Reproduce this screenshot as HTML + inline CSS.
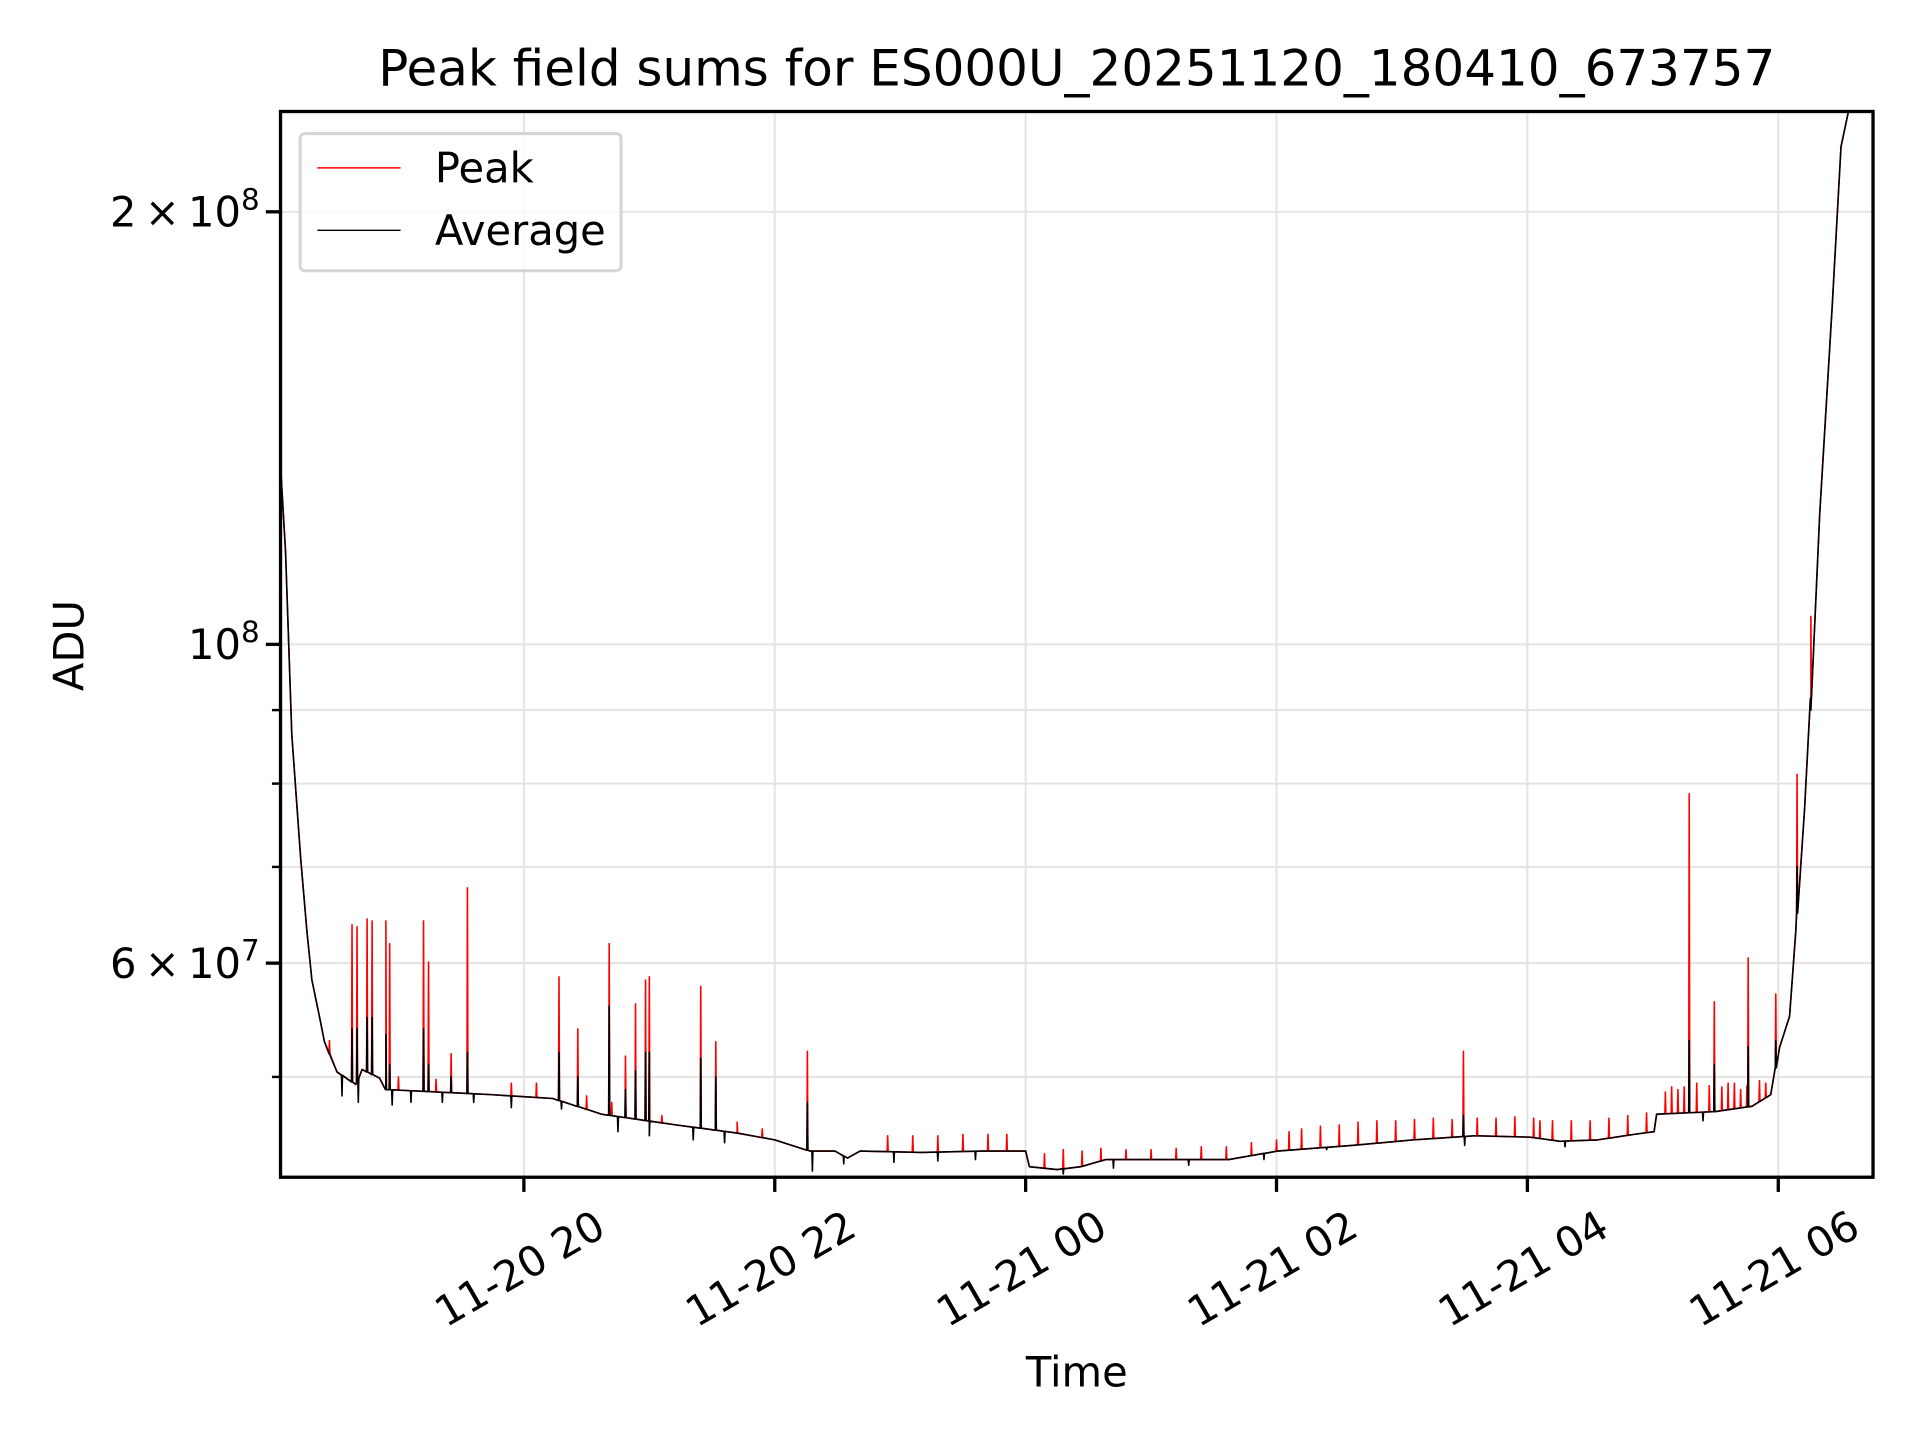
<!DOCTYPE html>
<html><head><meta charset="utf-8"><style>
html,body{margin:0;padding:0;background:#fff;}
svg{display:block;font-family:"DejaVu Sans","Liberation Sans",sans-serif;}
</style></head><body>
<svg id="chart" width="1920" height="1440" viewBox="0 0 1567.35 1175.5" xmlns="http://www.w3.org/2000/svg">
<rect width="1567.35" height="1175.5" fill="#fff"/>
<text x="879" y="70" font-size="40.8" text-anchor="middle">Peak field sums for ES000U_20251120_180410_673757</text>
<g id="grid"></g>
<g id="series"></g>
<rect x="229" y="91" width="1300" height="870" fill="none" stroke="#000" stroke-width="2.7"/>
<g id="axes"></g>
<text x="879" y="1132" font-size="34" text-anchor="middle">Time</text>
<text transform="translate(68,527) rotate(-90)" font-size="34" text-anchor="middle">ADU</text>
<g>
<rect x="245" y="109" width="262" height="112" rx="4" fill="#fff" fill-opacity="0.8" stroke="#d5d5d5" stroke-width="2.5"/>
<line x1="259" y1="137" x2="327" y2="137" stroke="#f00" stroke-width="1.2"/>
<text x="355" y="149" font-size="34">Peak</text>
<line x1="259" y1="188" x2="327" y2="188" stroke="#000" stroke-width="1.2"/>
<text x="355" y="200" font-size="34">Average</text>
</g>
</svg>
<script>
// hours since 11-20 00:00 ; values in units of 1e7 ADU
const baseT = [18.06,18.10,18.15,18.22,18.27,18.31,18.37,18.41,18.51,18.66,18.71,18.85,18.90,19.74,20.23,20.62,21.21,21.70,22.00,22.28,22.48,22.58,22.68,23.17,23.66,24.00,24.03,24.25,24.44,24.64,25.13,25.62,26.01,26.60,27.09,27.58,28.02,28.26,28.56,28.85,29.01,29.03,29.50,29.79,29.94,30.01,30.09,30.14,30.21,30.26,30.33,30.43,30.50,30.56];
const baseV = [13.32,11.6,8.65,7.11,6.32,5.84,5.51,5.29,5.04,4.94,5.06,4.99,4.90,4.86,4.83,4.71,4.63,4.57,4.52,4.44,4.44,4.39,4.44,4.43,4.44,4.44,4.33,4.31,4.33,4.38,4.38,4.38,4.44,4.48,4.52,4.55,4.54,4.51,4.52,4.56,4.58,4.71,4.73,4.77,4.86,5.24,5.51,6.32,7.69,9.17,12.31,17.2,22.2,23.5];
const spikeT = [18.63,18.67,18.75,18.79,18.90,18.93,19.20,19.24,19.42,19.55,20.28,20.43,20.68,20.81,20.89,20.97,21.00,21.41,21.53,22.26,27.49,29.29,29.49,29.76,29.98,30.15,30.26];
const spikePeakV = [6.38,6.36,6.44,6.42,6.42,6.19,6.42,6.01,5.19,6.77,5.87,5.40,6.19,5.17,5.62,5.84,5.87,5.78,5.29,5.21,5.21,7.87,5.64,6.05,5.71,8.12,10.46];
const spikeAvgV = [5.40,5.40,5.50,5.50,5.35,5.10,5.40,5.10,5.00,5.20,5.20,5.00,5.60,4.90,5.05,5.20,5.20,5.15,5.00,4.80,4.70,5.30,5.10,5.25,5.30,7.00,9.00];
const smallT = [18.45,19.0,19.3,19.9,20.1,20.5,20.7,21.1,21.7,21.9,22.9,23.1,23.3,23.5,23.7,23.85,24.15,24.3,24.45,24.6,24.8,25.0,25.2,25.4,25.6,25.8,26.0,26.1,26.2,26.35,26.5,26.65,26.8,26.95,27.1,27.25,27.4,27.6,27.75,27.9,28.05,28.1,28.2,28.35,28.5,28.65,28.8,28.95,29.1,29.15,29.2,29.25,29.35,29.45,29.55,29.6,29.65,29.7,29.75,29.85,29.9];
const smallV = [5.30,5.0,4.98,4.95,4.95,4.85,4.80,4.70,4.65,4.6,4.55,4.55,4.55,4.56,4.56,4.56,4.42,4.45,4.44,4.46,4.45,4.45,4.46,4.47,4.47,4.5,4.52,4.58,4.6,4.62,4.63,4.65,4.66,4.66,4.67,4.68,4.67,4.68,4.68,4.69,4.68,4.66,4.66,4.66,4.66,4.68,4.7,4.72,4.88,4.92,4.90,4.92,4.95,4.93,4.92,4.95,4.95,4.90,4.93,4.97,4.95];
const dipT = [18.55,18.68,18.95,19.1,19.35,19.6,19.9,20.3,20.75,21.0,21.35,21.6,22.3,22.55,22.95,23.3,23.6,24.3,24.7,25.3,25.9,26.4,27.5,28.3,29.4];
const dipV = [4.85,4.80,4.78,4.80,4.80,4.80,4.76,4.75,4.58,4.55,4.52,4.50,4.30,4.35,4.36,4.37,4.38,4.28,4.32,4.34,4.38,4.45,4.48,4.47,4.66];
const xTickT = [20,22,24,26,28,30];
const xTickLabels = ["11-20 20","11-20 22","11-21 00","11-21 02","11-21 04","11-21 06"];
const yMajorV = [20,10,6];
const yMajorLabels = [["2","8"],["","8"],["6","7"]];
const yMinorV = [5,7,8,9];

const L=229,R=1529,T=91,B=961, T0=18.06, PXH=102.4, PXDEC=1173, Y1E8=526;
const xs = h => L + (h - T0) * PXH;
const ys = v => Y1E8 - Math.log10(v / 10) * PXDEC;
const NS="http://www.w3.org/2000/svg";
function mk(tag, attrs, parent){const e=document.createElementNS(NS,tag);for(const k in attrs)e.setAttribute(k,attrs[k]);parent.appendChild(e);return e;}
function baseAt(h){
  if(h<=baseT[0])return baseV[0];
  for(let i=1;i<baseT.length;i++){if(h<=baseT[i]){const f=(h-baseT[i-1])/(baseT[i]-baseT[i-1]);return Math.exp(Math.log(baseV[i-1])*(1-f)+Math.log(baseV[i])*f);}}
  return baseV[baseV.length-1];
}
const grid=document.getElementById('grid'), axes=document.getElementById('axes'), series=document.getElementById('series');
const defs=mk('defs',{},document.getElementById('chart'));
const cp=mk('clipPath',{id:'clip'},defs); mk('rect',{x:L,y:T,width:R-L,height:B-T},cp);
series.setAttribute('clip-path','url(#clip)');

xTickT.forEach((h,i)=>{
  const x=xs(h);
  const g=mk('line',{x1:x,y1:T,x2:x,y2:B,stroke:'#e3e3e3','stroke-width':1.6},grid);
  
  
  const t=mk('line',{x1:x,y1:B,x2:x,y2:B+12,stroke:'#000','stroke-width':2.7},axes);
  
  
  const lb=mk('text',{transform:`translate(${x-2},${1038}) rotate(-30)`,'font-size':34,'text-anchor':'middle','dominant-baseline':'middle'},axes);
  lb.textContent=xTickLabels[i];
  
  
});
yMinorV.forEach(v=>{
  const y=ys(v);
  const g=mk('line',{x1:L,y1:y,x2:R,y2:y,stroke:'#e3e3e3','stroke-width':1.6},grid);
  
  
  const t=mk('line',{x1:L-7,y1:y,x2:L,y2:y,stroke:'#000','stroke-width':2},axes);
  
  
});
yMajorV.forEach((v,i)=>{
  const y=ys(v);
  const g=mk('line',{x1:L,y1:y,x2:R,y2:y,stroke:'#e3e3e3','stroke-width':1.6},grid);
  
  
  const t=mk('line',{x1:L-12,y1:y,x2:L,y2:y,stroke:'#000','stroke-width':2.7},axes);
  
  
  const lb=mk('text',{x:L-17,y:y+12,'font-size':34,'text-anchor':'end'},axes);
  
  
  const [m,e]=yMajorLabels[i];
  const s1=mk('tspan',{},lb); s1.textContent=(m?m+'\u2009\u00d7\u2009':'')+'10';
  const s2=mk('tspan',{dy:-14,'font-size':24},lb); s2.textContent=e;
});

function buildPts(extraT, extraV){
  let pts=baseT.map((h,i)=>[h,baseV[i]]);
  extraT.forEach((h,i)=>{const b=baseAt(h);pts.push([h-0.004,b],[h,extraV[i]],[h+0.004,b]);});
  pts.sort((a,b)=>a[0]-b[0]);
  return pts.map(p=>xs(p[0]).toFixed(2)+','+ys(p[1]).toFixed(2)).join(' ');
}
const peak=mk('polyline',{points:buildPts(spikeT.concat(smallT),spikePeakV.concat(smallV)),fill:'none',stroke:'#f00','stroke-width':1.3,'stroke-linejoin':'round'},series);


const avg=mk('polyline',{points:buildPts(spikeT.concat(dipT),spikeAvgV.concat(dipV)),fill:'none',stroke:'#000','stroke-width':1.3,'stroke-linejoin':'round'},series);


</script>
</body></html>
